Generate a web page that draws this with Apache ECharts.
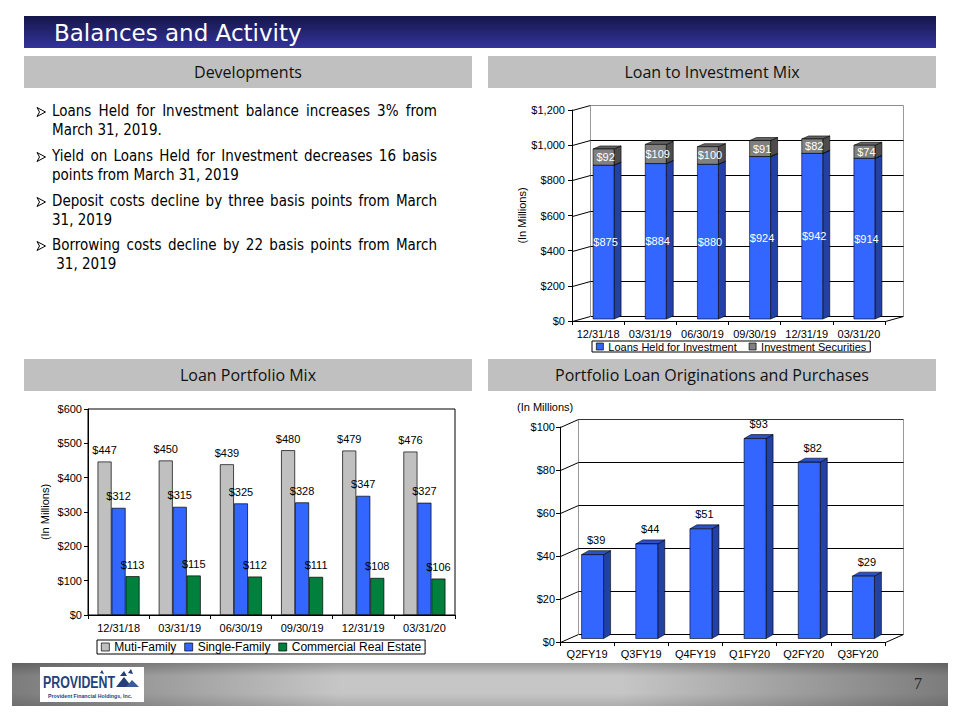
<!DOCTYPE html>
<html>
<head>
<meta charset="utf-8">
<script src="https://cdn.jsdelivr.net/npm/echarts@6/dist/echarts.min.js"></script>
<style>
  html, body { margin: 0; padding: 0; background: #fff; }
  #slide { position: relative; width: 960px; height: 720px; overflow: hidden; }
  #titlebar {
    position: absolute; left: 24px; top: 16px; width: 912px; height: 32px;
    background: linear-gradient(to bottom, #15154a 0%, #23236e 45%, #33339a 100%);
  }
  #titlebar span {
    position: absolute; left: 30px; top: 1px; color: #fff;
    font: 23px "DejaVu Sans", Verdana, sans-serif; line-height: 33px;
  }
  .hdr {
    position: absolute; width: 448px; height: 32px; background: #c0c0c0;
    text-align: center; color: #111;
    font: 16px "Open Sans", "Noto Sans", sans-serif; line-height: 32px;
  }
  .bul { position: absolute; left: 36px; font: 15px "DejaVu Sans Condensed", "DejaVu Sans", sans-serif; color: #000; }
  .bul .arr { position: absolute; left: 0; top: 0; width: 11px; height: 19px; }
  .bul div { margin-left: 16px; line-height: 19px; white-space: nowrap; }
  .bul .full { width: 385px; text-align: justify; text-align-last: justify; }
  #footer {
    position: absolute; left: 12px; top: 663px; width: 936px; height: 43px;
    background:
      linear-gradient(to bottom, rgba(0,0,0,0.22), rgba(0,0,0,0) 30%, rgba(0,0,0,0) 70%, rgba(0,0,0,0.12)),
      linear-gradient(to right, #7c7c7c, #c6c6c6 35%, #c6c6c6 65%, #7c7c7c);
  }
  #logo { position: absolute; left: 28px; top: 4px; width: 104px; height: 35px; background: #fff; }
  #pagenum { position: absolute; left: 902px; top: 12px; font: 16px "Liberation Serif", serif; color: #222; }
  #chart { position: absolute; left: 0; top: 0; width: 960px; height: 720px; }
</style>
</head>
<body>
<div id="slide">
  <div id="titlebar"><span>Balances and Activity</span></div>
  <div class="hdr" style="left:24px;top:56px">Developments</div>
  <div class="hdr" style="left:488px;top:56px">Loan to Investment Mix</div>
  <div class="hdr" style="left:24px;top:359px">Loan Portfolio Mix</div>
  <div class="hdr" style="left:488px;top:359px">Portfolio Loan Originations and Purchases</div>

  <div class="bul" style="top:102px"><svg class="arr" viewBox="0 0 11 19"><path d="M1 5.5 L9.5 10 L1 14.5 L3.5 10 Z" fill="#fff" stroke="#000" stroke-width="1"/></svg>
    <div class="full">Loans Held for Investment balance increases 3% from</div>
    <div>March 31, 2019.</div>
  </div>
  <div class="bul" style="top:147px"><svg class="arr" viewBox="0 0 11 19"><path d="M1 5.5 L9.5 10 L1 14.5 L3.5 10 Z" fill="#fff" stroke="#000" stroke-width="1"/></svg>
    <div class="full">Yield on Loans Held for Investment decreases 16 basis</div>
    <div>points from March 31, 2019</div>
  </div>
  <div class="bul" style="top:192px"><svg class="arr" viewBox="0 0 11 19"><path d="M1 5.5 L9.5 10 L1 14.5 L3.5 10 Z" fill="#fff" stroke="#000" stroke-width="1"/></svg>
    <div class="full">Deposit costs decline by three basis points from March</div>
    <div>31, 2019</div>
  </div>
  <div class="bul" style="top:236px"><svg class="arr" viewBox="0 0 11 19"><path d="M1 5.5 L9.5 10 L1 14.5 L3.5 10 Z" fill="#fff" stroke="#000" stroke-width="1"/></svg>
    <div class="full">Borrowing costs decline by 22 basis points from March</div>
    <div>&nbsp;31, 2019</div>
  </div>

  <div id="footer">
    <div id="logo">
      <svg width="104" height="35" viewBox="0 0 104 35">
        <text x="3" y="21" font-family="Liberation Sans, Arial" font-weight="bold" font-size="16" fill="#233f7c" textLength="72" lengthAdjust="spacingAndGlyphs">PROVIDENT</text>
        <polygon points="76,20 84,10 92,20" fill="#233f7c"/>
        <polygon points="86,20 92,13 99,20" fill="#3a5a9c"/>
        <polygon points="80,9 84,4 87,9" fill="#233f7c"/>
        <polygon points="88,6 91,2 93,7" fill="#233f7c"/>
        <polygon points="60,6 62,3 64,7" fill="#233f7c"/>
        <text x="8" y="31" font-family="Liberation Sans, Arial" font-weight="bold" font-size="5.5" fill="#233f7c" textLength="84" lengthAdjust="spacingAndGlyphs">Provident Financial Holdings, Inc.</text>
      </svg>
    </div>
    <div id="pagenum">7</div>
  </div>

  <div id="chart"></div>
</div>
<script>
// Loan to Investment Mix
const quarters = ['12/31/18', '03/31/19', '06/30/19', '09/30/19', '12/31/19', '03/31/20'];
const loansHeld = [875, 884, 880, 924, 942, 914];
const investSec = [92, 109, 100, 91, 82, 74];
const mixTicks = [0, 200, 400, 600, 800, 1000, 1200];

// Loan Portfolio Mix
const multiFamily = [447, 450, 439, 480, 479, 476];
const singleFamily = [312, 315, 325, 328, 347, 327];
const commercialRE = [113, 115, 112, 111, 108, 106];

// Portfolio Loan Originations and Purchases
const fiscalQtrs = ['Q2FY19', 'Q3FY19', 'Q4FY19', 'Q1FY20', 'Q2FY20', 'Q3FY20'];
const originations = [39, 44, 51, 93, 82, 29];
const origTicks = [0, 20, 40, 60, 80, 100];

const FONT = '"Liberation Sans", Arial, sans-serif';
const money = v => '$' + v.toLocaleString('en-US');
const txt = { color: '#000', fontSize: 11, fontFamily: FONT };

const seg = (x1, y1, x2, y2, c) => ({
  type: 'line',
  shape: { x1: x1, y1: y1, x2: x2, y2: y2 },
  style: { stroke: c, lineWidth: 1 }
});

// back wall, floor and gridlines of the excel-style 3d plots
function wallSeries(gi, ticks, depth, topColor) {
  const dx = depth[0], dy = depth[1];
  const top = ticks[ticks.length - 1];
  return {
    type: 'custom', xAxisIndex: gi, yAxisIndex: gi, z: 1, silent: true,
    data: ticks.map(t => [0, t]),
    encode: { x: 0, y: 1 },
    renderItem(params, api) {
      const cs = params.coordSys;
      const v = api.value(1);
      const y = Math.round(api.coord([0, v])[1]) + 0.5;
      const L = cs.x + 0.5, R = cs.x + cs.width + 0.5;
      const kids = [
        seg(L, y, L + dx, y + dy, '#000'),
        seg(L + dx, y + dy, R + dx, y + dy, v === top ? topColor : '#000')
      ];
      if (v === 0) {
        const yt = Math.round(api.coord([0, top])[1]) + 0.5;
        kids.push(seg(R, y, R + dx, y + dy, '#000'));
        kids.push(seg(L + dx, yt + dy, L + dx, y + dy, '#9a9a9a'));
        kids.push(seg(R + dx, yt + dy, R + dx, y + dy, '#9a9a9a'));
      }
      return { type: 'group', children: kids };
    }
  };
}

// a 3d column from value dims 1 to 2; cfg holds faces, sizes and label mode
function barSeries(name, gi, data, cfg) {
  return {
    type: 'custom', name: name, xAxisIndex: gi, yAxisIndex: gi, z: 3, silent: true,
    itemStyle: { color: cfg.front },
    data: data,
    encode: { x: 0, y: [1, 2] },
    renderItem(params, api) {
      const i = api.value(0), b = api.value(1), t = api.value(2);
      const cx = api.coord([i, 0])[0] + cfg.shift[0];
      const yb = api.coord([i, b])[1] + cfg.shift[1];
      const yt = api.coord([i, t])[1] + cfg.shift[1];
      const x0 = cx - cfg.width / 2, x1 = cx + cfg.width / 2;
      const dx = cfg.depth[0], dy = cfg.depth[1];
      const edge = { stroke: '#000', lineWidth: 0.6 };
      const kids = [
        { type: 'polygon', shape: { points: [[x1, yt], [x1 + dx, yt + dy], [x1 + dx, yb + dy], [x1, yb]] },
          style: Object.assign({ fill: cfg.side }, edge) },
        { type: 'polygon', shape: { points: [[x0, yt], [x0 + dx, yt + dy], [x1 + dx, yt + dy], [x1, yt]] },
          style: Object.assign({ fill: cfg.top }, edge) },
        { type: 'rect', shape: { x: x0, y: yt, width: x1 - x0, height: yb - yt },
          style: Object.assign({ fill: cfg.front }, edge) }
      ];
      const label = money(t - b);
      if (cfg.labelInside) {
        kids.push({ type: 'text', style: { text: label, x: cx + 2, y: (yt + yb) / 2, fill: '#fff',
          font: '11px ' + FONT, align: 'center', verticalAlign: 'middle',
          textAlign: 'center', textVerticalAlign: 'middle' } });
      } else {
        kids.push({ type: 'text', style: { text: label, x: cx + dx / 2, y: yt + dy - 5, fill: '#000',
          font: '11px ' + FONT, align: 'center', verticalAlign: 'bottom',
          textAlign: 'center', textVerticalAlign: 'bottom' } });
      }
      return { type: 'group', children: kids };
    }
  };
}

const blueFaces = { front: '#3366ff', side: '#2340a4', top: '#2b50cc' };
const grayFaces = { front: '#808080', side: '#4c4c4c', top: '#636363' };

const mixBar = { width: 21, depth: [7, -3], shift: [5.5, -2], labelInside: true };
const origBar = { width: 22, depth: [7, -4], shift: [5.5, -3.5], labelInside: false };

const catAxis = (gi, data, margin) => ({
  gridIndex: gi, type: 'category', data: data,
  axisLine: { show: true, lineStyle: { color: '#000', width: 1 } },
  axisTick: { show: true, length: 4, lineStyle: { color: '#000' } },
  axisLabel: Object.assign({ margin: margin, interval: 0 }, txt),
  splitLine: { show: false }
});

const valAxis = (gi, max, step, margin) => ({
  gridIndex: gi, type: 'value', min: 0, max: max, interval: step,
  axisLine: { show: true, lineStyle: { color: '#000', width: 1 } },
  axisTick: { show: true, length: 4, lineStyle: { color: '#000' } },
  axisLabel: Object.assign({ margin: margin, formatter: money }, txt),
  splitLine: { show: false }
});

const chart = echarts.init(document.getElementById('chart'), null, { renderer: 'svg' });

const mixY = valAxis(0, 1200, 200, 7);
mixY.name = '(In Millions)';
mixY.nameLocation = 'middle';
mixY.nameGap = 45;
mixY.nameTextStyle = txt;

const loanY = valAxis(1, 600, 100, 6);
loanY.name = '(In Millions)';
loanY.nameLocation = 'middle';
loanY.nameGap = 38;
loanY.nameTextStyle = txt;

const flatBar = (name, data, color) => ({
  type: 'bar', name: name, xAxisIndex: 1, yAxisIndex: 1, data: data,
  barWidth: 14, barGap: '0%', silent: true,
  itemStyle: { color: color, borderColor: '#000', borderWidth: 0.7 },
  label: { show: true, position: 'top', distance: 6, formatter: p => money(p.value), color: '#000', fontSize: 11, fontFamily: FONT }
});

chart.setOption({
  animation: false,
  grid: [
    { left: 572, top: 110, width: 313, height: 211, outerBoundsMode: 'none' },
    { left: 88, top: 409, width: 367, height: 206, show: true, borderColor: '#000', borderWidth: 1, outerBoundsMode: 'none' },
    { left: 560, top: 427, width: 325, height: 215, outerBoundsMode: 'none' }
  ],
  xAxis: [catAxis(0, quarters, 7), catAxis(1, quarters, 7), catAxis(2, fiscalQtrs, 6)],
  yAxis: [mixY, loanY, valAxis(2, 100, 20, 5)],
  legend: [
    {
      data: ['Loans Held for Investment', 'Investment Securities'],
      left: 592, top: 341, icon: 'rect', itemWidth: 7, itemHeight: 7, itemGap: 12,
      padding: [0, 4], borderColor: '#000', borderWidth: 1,
      itemStyle: { borderColor: '#000', borderWidth: 0.7 },
      textStyle: txt, selectedMode: false
    },
    {
      data: ['Muti-Family', 'Single-Family', 'Commercial Real Estate'],
      left: 97, top: 640, icon: 'rect', itemWidth: 8, itemHeight: 8, itemGap: 8,
      padding: [1, 4], borderColor: '#000', borderWidth: 1,
      itemStyle: { borderColor: '#000', borderWidth: 0.7 },
      textStyle: { color: '#000', fontSize: 12, fontFamily: FONT }, selectedMode: false
    }
  ],
  graphic: [
    { type: 'text', left: 517, top: 401, style: { text: '(In Millions)', fill: '#000', font: '11px ' + FONT } }
  ],
  series: [
    wallSeries(0, mixTicks, [18, -5], '#8c8c8c'),
    barSeries('Loans Held for Investment', 0, loansHeld.map((v, i) => [i, 0, v]),
      Object.assign({}, mixBar, blueFaces)),
    barSeries('Investment Securities', 0, investSec.map((v, i) => [i, loansHeld[i], loansHeld[i] + v]),
      Object.assign({}, mixBar, grayFaces)),

    flatBar('Muti-Family', multiFamily, '#c0c0c0'),
    flatBar('Single-Family', singleFamily, '#3366ff'),
    flatBar('Commercial Real Estate', commercialRE, '#00803c'),

    wallSeries(2, origTicks, [18, -8], '#333'),
    barSeries('Originations', 2, originations.map((v, i) => [i, 0, v]),
      Object.assign({}, origBar, blueFaces))
  ]
});
</script>
</body>
</html>
